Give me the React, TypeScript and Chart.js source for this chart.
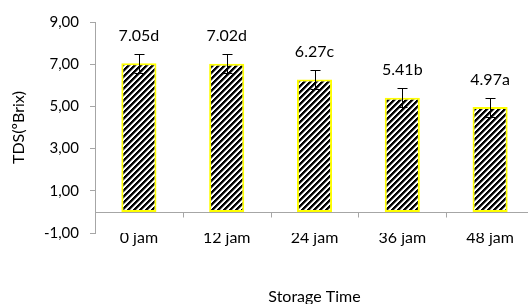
import React, { useEffect, useRef } from "react";
import { Chart, registerables } from "chart.js";

Chart.register(...registerables);

const categories = ["0 jam", "12 jam", "24 jam", "36 jam", "48 jam"];
const tdsValues = [7.05, 7.02, 6.27, 5.41, 4.97];
const errorValues = [0.45, 0.45, 0.45, 0.45, 0.45];
const valueLabels = ["7.05d", "7.02d", "6.27c", "5.41b", "4.97a"];
const yMin = -1;
const yMax = 9;
const yStep = 2;

const FONT = "Lato, 'Open Sans', sans-serif";

function makePattern(): CanvasPattern | string {
  const p = 6;
  const c = document.createElement("canvas");
  c.width = p;
  c.height = p;
  const g = c.getContext("2d");
  if (!g) return "#000";
  const img = g.createImageData(p, p);
  const shades = [0, 0, 20, 160, 255, 255];
  for (let yy = 0; yy < p; yy++) {
    for (let xx = 0; xx < p; xx++) {
      const k = (xx + yy) % p;
      const v = shades[k];
      const idx = (yy * p + xx) * 4;
      img.data[idx] = v;
      img.data[idx + 1] = v;
      img.data[idx + 2] = v;
      img.data[idx + 3] = 255;
    }
  }
  g.putImageData(img, 0, 0);
  const pat = g.createPattern(c, "repeat");
  return pat || "#000";
}

const overlayPlugin = {
  id: "overlay",
  afterDatasetsDraw(chart: any) {
    const ctx = chart.ctx;
    const y = chart.scales.y;
    const x = chart.scales.x;
    const area = chart.chartArea;
    const meta = chart.getDatasetMeta(0);
    ctx.save();
    const y0 = Math.round(y.getPixelForValue(0)) + 0.5;
    ctx.strokeStyle = "#a6a6a6";
    ctx.lineWidth = 1;
    ctx.beginPath();
    ctx.moveTo(area.left, y0);
    ctx.lineTo(area.right, y0);
    const n = categories.length;
    const cw = (x.right - x.left) / n;
    for (let i = 1; i < n; i++) {
      const tx = Math.round(x.left + i * cw) + 0.5;
      ctx.moveTo(tx, y0);
      ctx.lineTo(tx, y0 + 5);
    }
    ctx.stroke();

    ctx.strokeStyle = "#000";
    ctx.lineWidth = 1;
    meta.data.forEach((bar: any, i: number) => {
      const cx = Math.round(bar.x) + 0.5;
      const top = Math.round(y.getPixelForValue(tdsValues[i] + errorValues[i])) + 0.5;
      const bot = Math.round(y.getPixelForValue(tdsValues[i] - errorValues[i])) + 0.5;
      ctx.beginPath();
      ctx.moveTo(cx, top);
      ctx.lineTo(cx, bot);
      ctx.moveTo(cx - 5, top);
      ctx.lineTo(cx + 5, top);
      ctx.moveTo(cx - 5, bot);
      ctx.lineTo(cx + 5, bot);
      ctx.stroke();
      ctx.fillStyle = "#000";
      ctx.font = `16px ${FONT}`;
      ctx.textAlign = "center";
      ctx.textBaseline = "middle";
      ctx.fillText(valueLabels[i], bar.x, top - 19);
    });
    ctx.restore();
  },
};

export default function App() {
  const ref = useRef<HTMLCanvasElement | null>(null);
  useEffect(() => {
    if (!ref.current) return;
    const pattern = makePattern();
    const chart = new Chart(ref.current, {
      type: "bar",
      data: {
        labels: categories,
        datasets: [
          {
            data: tdsValues,
            backgroundColor: pattern as any,
            borderColor: "#ffff00",
            borderWidth: 2,
            borderSkipped: false,
            categoryPercentage: 1,
            barPercentage: 0.4,
          },
        ],
      },
      options: {
        responsive: false,
        animation: false,
        layout: { padding: { top: 22, left: 0, right: 0, bottom: 0 } },
        plugins: {
          legend: { display: false },
          tooltip: { enabled: false },
        },
        scales: {
          x: {
            grid: { display: false },
            border: { display: false },
            ticks: {
              color: "#000",
              font: { family: FONT, size: 16 },
              padding: -13,
              maxRotation: 0,
            },
            title: {
              display: true,
              text: "Storage Time",
              color: "#000",
              font: { family: FONT, size: 16 },
              padding: { top: 0, bottom: -2 },
            },
            afterFit: (s: any) => {
              s.height = 71;
            },
          },
          y: {
            min: yMin,
            max: yMax,
            ticks: {
              stepSize: yStep,
              color: "#000",
              font: { family: FONT, size: 15 },
              padding: 11,
              callback: (v: any) => Number(v).toFixed(2).replace(".", ","),
            },
            grid: {
              display: true,
              drawOnChartArea: false,
              tickLength: 5,
              color: "#a6a6a6",
            },
            border: { display: true, color: "#a6a6a6" },
            title: {
              display: true,
              text: "TDS(ºBrix)",
              color: "#000",
              font: { family: FONT, size: 16 },
              padding: { top: 9, bottom: 0 },
            },
            afterFit: (s: any) => {
              s.width = 95;
            },
          },
        },
      },
      plugins: [overlayPlugin],
    });
    return () => chart.destroy();
  }, []);
  return (
    <div
      style={{
        position: "absolute",
        left: 0,
        top: 0,
        width: 528,
        height: 304,
        overflow: "hidden",
        background: "#fff",
      }}
    >
      <canvas ref={ref} width={534} height={304} style={{ display: "block" }} />
    </div>
  );
}
